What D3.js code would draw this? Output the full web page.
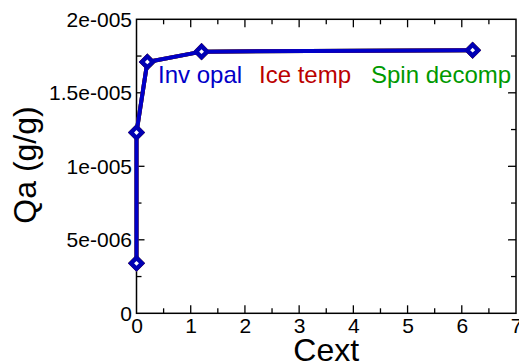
<!DOCTYPE html>
<html>
<head>
<meta charset="utf-8">
<script src="https://cdn.jsdelivr.net/npm/d3@7"></script>
<style>
  body { margin: 0; background: #fff; }
  svg { display: block; font-family: "Liberation Sans", Arial, sans-serif; }
</style>
</head>
<body>
<svg id="chart" width="519" height="362"></svg>
<script>
// data
const cext = [0, 0, 0.2, 1.2, 6.2];
const qaInvOpal = [3.4e-6, 1.23e-5, 1.71e-5, 1.78e-5, 1.79e-5];
const qaIceTemp = [3.4e-6, 1.23e-5, 1.71e-5, 1.78e-5, 1.79e-5];
const qaSpinDecomp = [3.4e-6, 1.23e-5, 1.71e-5, 1.78e-5, 1.79e-5];
const xTicks = [0, 1, 2, 3, 4, 5, 6, 7];
const yTicks = [0, 5e-6, 1e-5, 1.5e-5, 2e-5];
const yTickLabels = ["0", "5e-006", "1e-005", "1.5e-005", "2e-005"];

const svg = d3.select("#chart");
const plotL = 136.5, plotR = 516, plotT = 19.3, plotB = 313.3;

const x = d3.scaleLinear().domain([0, 7]).range([plotL, plotR]);
const y = d3.scaleLinear().domain([0, 2e-5]).range([plotB, plotT]);

// frame + ticks (all pointing inward)
const g = svg.append("g");
g.append("rect")
  .attr("x", plotL).attr("y", plotT)
  .attr("width", plotR - plotL).attr("height", plotB - plotT)
  .attr("fill", "none").attr("stroke", "#000").attr("stroke-width", 1.5);

const xMinor = d3.range(0.5, 7, 1);
const yMinor = d3.range(2.5e-6, 2e-5, 5e-6);

function xTickMarks(vals, len) {
  [[plotB, -len], [plotT, len]].forEach(([y0, dy]) => {
    g.selectAll(null).data(vals).enter().append("line")
      .attr("x1", d => x(d)).attr("x2", d => x(d))
      .attr("y1", y0).attr("y2", y0 + dy)
      .attr("stroke", "#000").attr("stroke-width", 1.3);
  });
}
function yTickMarks(vals, len) {
  [[plotL, len], [plotR, -len]].forEach(([x0, dx]) => {
    g.selectAll(null).data(vals).enter().append("line")
      .attr("x1", x0).attr("x2", x0 + dx)
      .attr("y1", d => y(d)).attr("y2", d => y(d))
      .attr("stroke", "#000").attr("stroke-width", 1.3);
  });
}
xTickMarks(xTicks.slice(1, -1), 8);
xTickMarks(xMinor, 5);
yTickMarks(yTicks.slice(1, -1), 8);
yTickMarks(yMinor, 5);

// tick labels
g.selectAll(null).data(xTicks).enter().append("text")
  .attr("x", d => x(d) + 0.5).attr("y", 333)
  .attr("text-anchor", "middle")
  .style("font-size", "21px")
  .text(d => d);

g.selectAll(null).data(yTicks).enter().append("text")
  .attr("x", 132).attr("y", d => y(d) + 7.5)
  .attr("text-anchor", "end")
  .style("font-size", "21px")
  .text((d, i) => yTickLabels[i]);

// axis titles
svg.append("text")
  .attr("x", x(3.5)).attr("y", 361)
  .attr("text-anchor", "middle")
  .style("font-size", "32px")
  .text("Cext");

svg.append("text")
  .attr("transform", "translate(36,165) rotate(-90)")
  .attr("text-anchor", "middle")
  .style("font-size", "32px")
  .text("Qa (g/g)");

// series (blue drawn last, on top)
const series = [
  { name: "Spin decomp", vals: qaSpinDecomp, color: "#009900" },
  { name: "Ice temp", vals: qaIceTemp, color: "#bb0000" },
  { name: "Inv opal", vals: qaInvOpal, color: "#0000c8" }
];

const line = d3.line().x(d => x(d[0])).y(d => y(d[1]));
const sym = d3.symbol().type(d3.symbolSquare).size(60);

series.forEach((s, si) => {
  const pts = cext.map((c, i) => [c, s.vals[i]]);
  svg.append("path")
    .datum(pts)
    .attr("d", line)
    .attr("fill", "none")
    .attr("stroke", s.color)
    .attr("stroke-width", 4);
  svg.selectAll(null).data(pts).enter().append("path")
    .attr("d", sym)
    .attr("transform", d => "translate(" + x(d[0]) + "," + y(d[1]) + ") rotate(45)")
    .attr("fill", "#fff")
    .attr("stroke", si === 2 ? "#0000b4" : s.color)
    .attr("stroke-width", 4.3);
});

// series labels
const labels = [
  { text: "Inv opal", x: 158, color: "#0000c8" },
  { text: "Ice temp", x: 259, color: "#bb0000" },
  { text: "Spin decomp", x: 371, color: "#009900" }
];
svg.selectAll(null).data(labels).enter().append("text")
  .attr("x", d => d.x).attr("y", 83)
  .attr("fill", d => d.color)
  .style("font-size", "24px")
  .text(d => d.text);
</script>
</body>
</html>
